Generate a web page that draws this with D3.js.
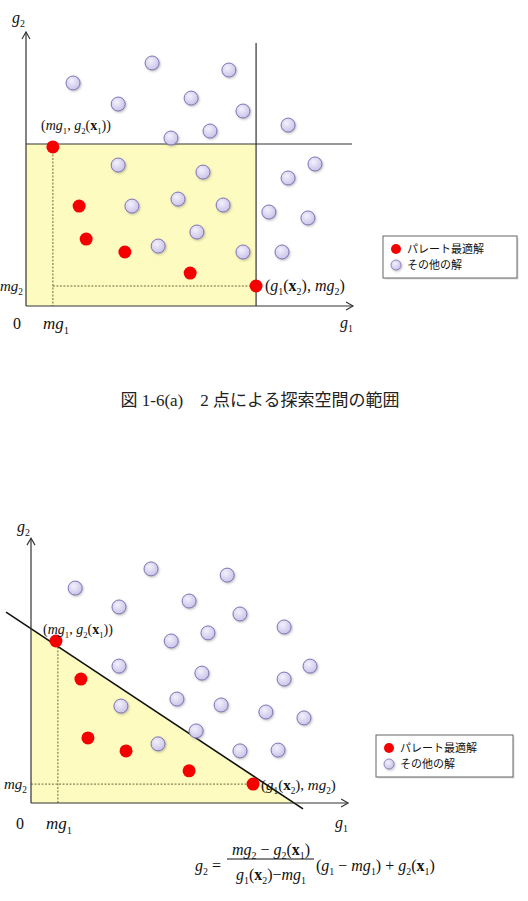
<!DOCTYPE html>
<html>
<head>
<meta charset="utf-8">
<title>2点による探索空間の範囲</title>
<script src="https://cdnjs.cloudflare.com/ajax/libs/d3/7.8.5/d3.min.js"></script>
<style>
  body { margin: 0; background: #fff; }
  svg { display: block; }
</style>
</head>
<body>
<script>
// points are in (g1, g2) units
let paretoA = [[0.84,5.89],[1.66,3.70],[1.88,2.48],[3.09,2.00],[5.13,1.22],[7.19,0.74]];
let othersA = [[1.47,8.26],[3.94,9.00],[6.34,8.74],[2.88,7.48],[5.16,7.70],[6.78,7.22],
  [8.19,6.70],[4.53,6.22],[5.75,6.48],[2.88,5.22],[5.53,4.96],[9.03,5.26],[8.19,4.74],
  [4.75,3.96],[3.31,3.70],[6.16,3.74],[7.59,3.48],[8.81,3.26],[5.34,2.74],[4.13,2.22],
  [6.78,2.00],[8.00,2.00]];

let paretoB = [[0.78,6.00],[1.56,4.59],[1.78,2.41],[2.97,1.93],[4.94,1.19],[6.94,0.70]];
let othersB = [[1.38,7.96],[3.75,8.67],[6.13,8.44],[2.75,7.26],[4.94,7.48],[6.53,7.00],
  [7.91,6.52],[4.38,6.00],[5.53,6.30],[2.75,5.07],[5.34,4.81],[8.72,5.07],[7.91,4.59],
  [4.56,3.85],[2.81,3.59],[5.94,3.63],[7.34,3.37],[8.53,3.15],[5.16,2.67],[3.97,2.19],
  [6.53,1.93],[7.72,1.96]];

// panel (a): rectangle given by the two extreme points
let boxA = [7.19, 6.0];        // g1(x2), g2(x1)
let minA = [0.84, 0.74];       // mg1, mg2
// panel (b): line through the two extreme points
let lineB = [[-0.78, 7.07], [8.5, -0.22]];
let triB = [[0, 6.46], [0, 0], [8.22, 0]];
let minB = [0.84, 0.70];

let legendLabels = ['パレート最適解', 'その他の解'];
let captionA = '図 1-6(a)　2 点による探索空間の範囲';

let W = 528, H = 901;
let serif = 'Liberation Serif, Times New Roman, serif';

let svg = d3.select('body').append('svg')
  .attr('width', W).attr('height', H);
svg.append('rect').attr('width', W).attr('height', H).attr('fill', '#fff');

let defs = svg.append('defs');
let grad = defs.append('radialGradient').attr('id', 'lav')
  .attr('cx', '40%').attr('cy', '35%').attr('r', '65%');
grad.append('stop').attr('offset', '0%').attr('stop-color', '#f3f1fc');
grad.append('stop').attr('offset', '100%').attr('stop-color', '#cbc3ea');
let sh = defs.append('filter').attr('id', 'shadow')
  .attr('x', '-50%').attr('y', '-50%').attr('width', '200%').attr('height', '200%');
sh.append('feDropShadow').attr('dx', 1).attr('dy', 1.2).attr('stdDeviation', 1)
  .attr('flood-color', '#777').attr('flood-opacity', 0.45);
let soft = defs.append('filter').attr('id', 'soft')
  .attr('x', '-50%').attr('y', '-50%').attr('width', '200%').attr('height', '200%');
soft.append('feGaussianBlur').attr('stdDeviation', 0.5);

// text with italic / bold / subscript pieces
function mathText(sel, x, y, size, parts, anchor) {
  let t = sel.append('text')
    .attr('x', x).attr('y', y)
    .attr('font-family', serif)
    .attr('font-size', size)
    .attr('fill', '#111')
    .attr('text-anchor', anchor || 'start');
  let shift = 0;
  parts.forEach(p => {
    let kind = p[1] || 'r';
    let s = t.append('tspan').text(p[0]);
    let target = kind === 'sub' ? size * 0.28 : 0;
    if (target !== shift) { s.attr('dy', target - shift); shift = target; }
    if (kind === 'sub') s.attr('font-size', size * 0.62);
    if (kind === 'i') s.attr('font-style', 'italic');
    if (kind === 'b') s.attr('font-weight', 'bold');
  });
  return t;
}

function arrowAxes(g, x, y, xEnd, yEnd) {
  let stroke = '#333';
  g.append('line').attr('x1', x(0)).attr('y1', y(0)).attr('x2', x(xEnd)).attr('y2', y(0))
    .attr('stroke', stroke).attr('stroke-width', 1.2);
  g.append('line').attr('x1', x(0)).attr('y1', y(0)).attr('x2', x(0)).attr('y2', y(yEnd))
    .attr('stroke', stroke).attr('stroke-width', 1.2);
  g.append('path')
    .attr('d', `M${x(xEnd) - 7},${y(0) - 4} L${x(xEnd)},${y(0)} L${x(xEnd) - 7},${y(0) + 4}`)
    .attr('fill', 'none').attr('stroke', stroke).attr('stroke-width', 1.1);
  g.append('path')
    .attr('d', `M${x(0) - 4},${y(yEnd) + 7} L${x(0)},${y(yEnd)} L${x(0) + 4},${y(yEnd) + 7}`)
    .attr('fill', 'none').attr('stroke', stroke).attr('stroke-width', 1.1);
}

function drawPoints(g, x, y, others, pareto) {
  g.selectAll('circle.other').data(others).enter().append('circle')
    .attr('class', 'other')
    .attr('cx', d => x(d[0])).attr('cy', d => y(d[1])).attr('r', 7)
    .attr('fill', 'url(#lav)').attr('stroke', '#7f74b4').attr('stroke-width', 1)
    .attr('filter', 'url(#shadow)');
  g.selectAll('circle.pareto').data(pareto).enter().append('circle')
    .attr('class', 'pareto')
    .attr('cx', d => x(d[0])).attr('cy', d => y(d[1])).attr('r', 6.5)
    .attr('fill', '#f50000').attr('filter', 'url(#soft)');
}

function legend(g, bx, by, bw, bh) {
  g.append('rect').attr('x', bx + 1.5).attr('y', by + 1.5).attr('width', bw).attr('height', bh)
    .attr('fill', '#ddd');
  g.append('rect').attr('x', bx).attr('y', by).attr('width', bw).attr('height', bh)
    .attr('fill', '#fff').attr('stroke', '#666').attr('stroke-width', 1);
  let items = g.selectAll('g.item').data(legendLabels).enter().append('g')
    .attr('transform', (d, i) => `translate(${bx + 13},${by + 13 + i * 16})`);
  items.append('circle').attr('r', 5)
    .attr('fill', (d, i) => i === 0 ? '#f50000' : 'url(#lav)')
    .attr('stroke', (d, i) => i === 0 ? 'none' : '#7f74b4')
    .attr('stroke-width', 0.8)
    .attr('filter', (d, i) => i === 0 ? 'url(#soft)' : 'url(#shadow)');
  items.append('text').attr('x', 11).attr('y', 4)
    .attr('font-family', 'Noto Sans CJK JP, sans-serif').attr('font-size', 11)
    .attr('fill', '#111').text(d => d);
}

let dotted = { stroke: '#6a6a40', width: 1, dash: '2,1.5' };

// ---------- panel (a) ----------
let gA = svg.append('g');
let xA = d3.scaleLinear().domain([0, 10]).range([26, 346]);
let yA = d3.scaleLinear().domain([0, 10]).range([306, 36]);

gA.append('rect')
  .attr('x', xA(0)).attr('y', yA(boxA[1]))
  .attr('width', xA(boxA[0]) - xA(0)).attr('height', yA(0) - yA(boxA[1]))
  .attr('fill', '#fdfbbf');
gA.append('line').attr('x1', xA(minA[0])).attr('x2', xA(minA[0]))
  .attr('y1', yA(boxA[1])).attr('y2', yA(0))
  .attr('stroke', dotted.stroke).attr('stroke-width', dotted.width).attr('stroke-dasharray', dotted.dash);
gA.append('line').attr('x1', xA(minA[0])).attr('x2', xA(boxA[0]))
  .attr('y1', yA(minA[1])).attr('y2', yA(minA[1]))
  .attr('stroke', dotted.stroke).attr('stroke-width', dotted.width).attr('stroke-dasharray', dotted.dash);
gA.append('line').attr('x1', xA(boxA[0])).attr('x2', xA(boxA[0]))
  .attr('y1', yA(9.74)).attr('y2', yA(0))
  .attr('stroke', '#333').attr('stroke-width', 1.2);
gA.append('line').attr('x1', xA(0)).attr('x2', xA(10.19))
  .attr('y1', yA(boxA[1])).attr('y2', yA(boxA[1]))
  .attr('stroke', '#333').attr('stroke-width', 1.2);
arrowAxes(gA, xA, yA, 10.22, 10.15);
drawPoints(gA, xA, yA, othersA, paretoA);

mathText(gA, 12, 23, 16, [['g', 'i'], ['2', 'sub']]);
mathText(gA, 340, 328, 16, [['g', 'i'], ['1', 'sub']]);
mathText(gA, 13, 329, 16, [['0']]);
mathText(gA, 43, 329, 17, [['mg', 'i'], ['1', 'sub']]);
mathText(gA, 0, 291, 15, [['mg', 'i'], ['2', 'sub']]);
mathText(gA, 41, 130, 14, [['('], ['mg', 'i'], ['1', 'sub'], [', '], ['g', 'i'], ['2', 'sub'],
  ['('], ['x', 'b'], ['1', 'sub'], ['))']]);
mathText(gA, 265, 291, 16, [['('], ['g', 'i'], ['1', 'sub'], ['('], ['x', 'b'], ['2', 'sub'],
  ['), '], ['mg', 'i'], ['2', 'sub'], [')']]);
legend(gA, 383, 236, 134, 42);

svg.append('text').attr('x', 260).attr('y', 406).attr('text-anchor', 'middle')
  .attr('font-family', 'Liberation Serif, Noto Sans CJK JP, serif').attr('font-size', 17)
  .attr('fill', '#222').text(captionA);

// ---------- panel (b) ----------
let gB = svg.append('g');
let xB = d3.scaleLinear().domain([0, 10]).range([31, 351]);
let yB = d3.scaleLinear().domain([0, 10]).range([803, 533]);

gB.append('path').datum(triB)
  .attr('d', d3.line().x(d => xB(d[0])).y(d => yB(d[1])))
  .attr('fill', '#fdfbbf');
gB.append('line').attr('x1', xB(minB[0])).attr('x2', xB(minB[0]))
  .attr('y1', yB(6.04)).attr('y2', yB(0))
  .attr('stroke', dotted.stroke).attr('stroke-width', dotted.width).attr('stroke-dasharray', dotted.dash);
gB.append('line').attr('x1', xB(0)).attr('x2', xB(6.94))
  .attr('y1', yB(minB[1])).attr('y2', yB(minB[1]))
  .attr('stroke', dotted.stroke).attr('stroke-width', dotted.width).attr('stroke-dasharray', dotted.dash);
gB.append('path').datum(lineB)
  .attr('d', d3.line().x(d => xB(d[0])).y(d => yB(d[1])))
  .attr('stroke', '#111').attr('stroke-width', 1.6).attr('fill', 'none');
arrowAxes(gB, xB, yB, 9.91, 9.81);
drawPoints(gB, xB, yB, othersB, paretoB);

mathText(gB, 17, 532, 16, [['g', 'i'], ['2', 'sub']]);
mathText(gB, 335, 828, 16, [['g', 'i'], ['1', 'sub']]);
mathText(gB, 16, 829, 16, [['0']]);
mathText(gB, 46, 829, 17, [['mg', 'i'], ['1', 'sub']]);
mathText(gB, 4, 789, 15, [['mg', 'i'], ['2', 'sub']]);
mathText(gB, 43, 634, 14, [['('], ['mg', 'i'], ['1', 'sub'], [', '], ['g', 'i'], ['2', 'sub'],
  ['('], ['x', 'b'], ['1', 'sub'], ['))']]);
mathText(gB, 261, 790, 15, [['('], ['g', 'i'], ['1', 'sub'], ['('], ['x', 'b'], ['2', 'sub'],
  ['), '], ['mg', 'i'], ['2', 'sub'], [')']]);
legend(gB, 376, 735, 137, 42);

// formula for the line
let gF = svg.append('g');
mathText(gF, 195, 871, 16, [['g', 'i'], ['2', 'sub'], [' =']]);
mathText(gF, 271, 855, 16, [['mg', 'i'], ['2', 'sub'], [' − '], ['g', 'i'], ['2', 'sub'],
  ['('], ['x', 'b'], ['1', 'sub'], [')']], 'middle');
gF.append('line').attr('x1', 227).attr('x2', 314).attr('y1', 859).attr('y2', 859)
  .attr('stroke', '#111').attr('stroke-width', 1);
mathText(gF, 271, 880, 16, [['g', 'i'], ['1', 'sub'], ['('], ['x', 'b'], ['2', 'sub'],
  [')'], ['−'], ['mg', 'i'], ['1', 'sub']], 'middle');
mathText(gF, 316, 871, 16, [['('], ['g', 'i'], ['1', 'sub'], [' − '], ['mg', 'i'], ['1', 'sub'],
  [')'], [' + '], ['g', 'i'], ['2', 'sub'], ['('], ['x', 'b'], ['1', 'sub'], [')']]);
</script>
</body>
</html>
